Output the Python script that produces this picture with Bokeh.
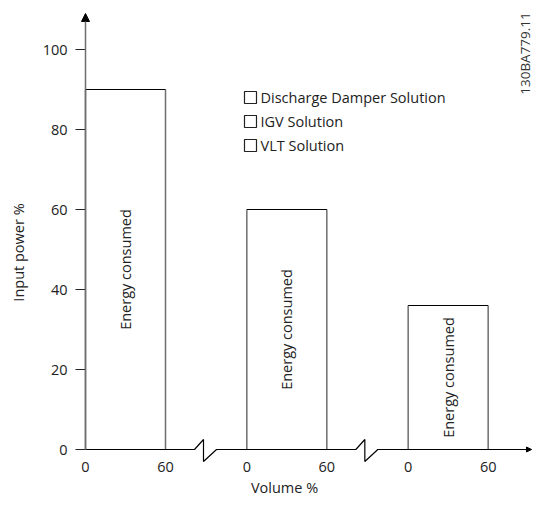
import math
from bokeh.plotting import figure
from bokeh.models import FixedTicker, Label, Arrow, NormalHead, ColumnDataSource, Range1d
from bokeh.core.properties import value
from bokeh.embed import file_html
from bokeh.resources import INLINE

# ---- data ----
solutions = ["Discharge Damper Solution", "IGV Solution", "VLT  Solution"]
input_power = [90, 60, 36]          # % input power for each solution
volume_ticks = [0, 60]              # volume % tick labels per panel
bar_text = "Energy consumed"
y_ticks = [0, 20, 40, 60, 80, 100]
code_text = "130BA779.11"
x_title = "Volume %"
y_title = "Input power %"

FONT = "Open Sans"
GAP = 121          # panel spacing in x units
VOL = 60
W, H = 532, 499
SX = 0.75          # x units per px
SY = 0.25          # y units per px
X0 = -85 * SX
Y0 = -(H - 449) * SY

p = figure(width=W, height=H, output_backend="svg", toolbar_location=None,
           x_range=Range1d(X0, X0 + W * SX), y_range=Range1d(Y0, Y0 + H * SY),
           min_border=0)
p.outline_line_color = None
p.grid.visible = False
p.background_fill_color = "white"
p.border_fill_color = "white"

# y axis
p.yaxis.fixed_location = 0
p.yaxis.ticker = FixedTicker(ticks=y_ticks)
p.yaxis.axis_line_color = None
p.yaxis.major_tick_out = 10
p.yaxis.major_tick_in = 0
p.yaxis.minor_tick_line_color = None
p.yaxis.major_tick_line_color = "#222222"
p.yaxis.major_label_text_font = FONT
p.yaxis.major_label_text_font_size = "14.5px"
p.yaxis.major_label_text_color = "#222222"
p.yaxis.major_label_standoff = 8

# x axis (labels only; line drawn with breaks)
xt = []
overrides = {}
for i in range(len(input_power)):
    for v in volume_ticks:
        t = i * GAP + v
        xt.append(t)
        overrides[t] = str(v)
p.xaxis.fixed_location = 0
p.xaxis.ticker = FixedTicker(ticks=xt)
p.xaxis.major_label_overrides = overrides
p.xaxis.axis_line_color = None
p.xaxis.major_tick_line_color = None
p.xaxis.major_tick_out = 0
p.xaxis.major_tick_in = 0
p.xaxis.minor_tick_line_color = None
p.xaxis.major_label_text_font = FONT
p.xaxis.major_label_text_font_size = "14.5px"
p.xaxis.major_label_text_color = "#222222"
p.xaxis.major_label_standoff = 12

# bars
lefts = [i * GAP for i in range(len(input_power))]
rights = [l + VOL for l in lefts]
src = ColumnDataSource(dict(left=lefts, right=rights, top=input_power,
                            mid=[(l + r) / 2 for l, r in zip(lefts, rights)],
                            half=[h / 2 for h in input_power],
                            txt=[bar_text] * len(input_power)))
p.segment(x0="left", y0=0, x1="left", y1="top", source=src, line_color="#6e6e6e", line_width=1.5)
p.segment(x0="right", y0=0, x1="right", y1="top", source=src, line_color="#6e6e6e", line_width=1.5)
p.segment(x0="left", y0="top", x1="right", y1="top", source=src, line_color="black", line_width=1.2)
p.text(x="mid", y="half", text="txt", source=src, angle=math.pi / 2,
       text_align="center", text_baseline="middle", text_font=value(FONT),
       text_font_size="14.5px", text_color="#222222")

# x axis line with breaks
xs, ys = [0], [0]
for i in range(len(input_power) - 1):
    b = i * GAP + VOL
    xs += [b + 21.75, b + 28.5, b + 28.5, b + 38.25]
    ys += [0, 2.5, -3, 0]
xend = (531 - 85) * SX
xs.append(xend)
ys.append(0)
p.line(xs, ys, line_color="black", line_width=1.2)
p.add_layout(Arrow(end=NormalHead(size=5, fill_color="black", line_color="black"),
                   x_start=xend - 3, y_start=0, x_end=xend, y_end=0, line_color="black", line_width=1.2))

# y axis line with arrow
p.add_layout(Arrow(end=NormalHead(size=8, fill_color="black", line_color="black"),
                   x_start=0, y_start=0, x_end=0, y_end=(449 - 13) * SY,
                   line_color="#6e6e6e", line_width=1.5))

# legend
ly = [88 - 6 * i for i in range(len(solutions))]
p.scatter(x=[(250 - 85) * SX] * len(solutions), y=ly, marker="square", size=12,
          fill_color=None, line_color="#222222", line_width=1.2)
p.text(x=[(260 - 85) * SX] * len(solutions), y=ly, text=solutions, text_align="left",
       text_baseline="middle", text_font=value(FONT), text_font_size="14.5px", text_color="#222222")

# code label
p.text(x=[(524 - 85) * SX], y=[(449 - 53) * SY], text=[code_text], angle=math.pi / 2,
       text_align="center", text_baseline="middle", text_font=value(FONT),
       text_font_size="13.5px", text_color="#333333")

# axis titles
p.add_layout(Label(x=(18 - 85) * SX, y=(449 - 252) * SY, text=y_title, angle=math.pi / 2,
                   text_align="center", text_baseline="middle", text_font=FONT,
                   text_font_size="14.5px", text_color="#222222"))
p.add_layout(Label(x=(284 - 85) * SX, y=(449 - 487) * SY, text=x_title, text_align="center",
                   text_baseline="middle", text_font=FONT, text_font_size="14.5px",
                   text_color="#222222"))

open("out.html", "w").write(file_html(p, INLINE))
